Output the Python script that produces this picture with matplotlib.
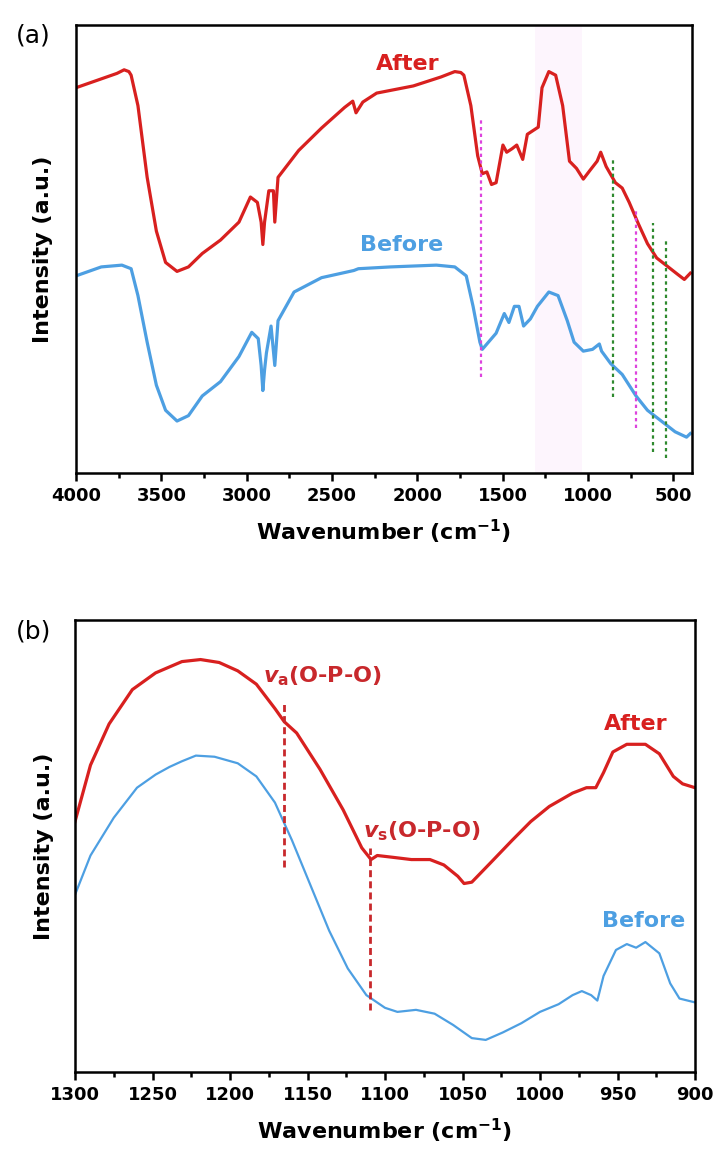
import matplotlib
matplotlib.use("Agg")
import matplotlib.pyplot as plt

# FTIR spectra (intensity in arbitrary 0-100 units)

# panel (a): full range
wn_after_a = [4000, 3760, 3718, 3690, 3677, 3637, 3583, 3529, 3475, 3408, 3341, 3260,
              3153, 3045, 2978, 2937, 2915, 2905, 2895, 2870, 2843, 2835, 2816, 2695,
              2561, 2426, 2378, 2359, 2319, 2238, 2023, 1861, 1780, 1745, 1727, 1686,
              1646, 1619, 1592, 1565, 1538, 1498, 1476, 1444, 1417, 1382, 1355, 1323,
              1291, 1269, 1229, 1189, 1148, 1108, 1067, 1027, 987, 946, 925, 893, 839,
              799, 758, 704, 651, 597, 543, 476, 435, 400]
int_after_a = [86, 89.2, 90, 89.6, 88.8, 82, 66, 54, 47, 45, 46, 49,
               52, 56, 61.6, 60.4, 56, 51, 56, 63, 63, 56, 66, 72,
               77, 81.6, 83, 80.4, 82.8, 84.8, 86.4, 88.4, 89.6, 89.4, 88.8, 82,
               70.8, 66.8, 67.2, 64.4, 64.8, 73.2, 71.6, 72.4, 73.2, 70, 75.6, 76.4,
               77.2, 86, 89.6, 88.8, 82, 69.6, 68, 65.6, 67.6, 69.6, 71.6, 68.4, 64.8,
               63.6, 60.4, 55.6, 51.2, 48, 46.4, 44.4, 43.2, 44.6]

wn_before_a = [4000, 3852, 3731, 3677, 3637, 3583, 3529, 3475, 3408, 3341, 3260, 3153,
               3045, 2970, 2932, 2915, 2905, 2895, 2884, 2857, 2835, 2816, 2722, 2561,
               2372, 2345, 2157, 1888, 1780, 1713, 1673, 1633, 1619, 1592, 1538, 1490,
               1463, 1431, 1404, 1377, 1337, 1296, 1229, 1175, 1121, 1081, 1027, 973,
               933, 920, 866, 799, 718, 651, 570, 489, 422, 400]
int_before_a = [44, 46, 46.4, 45.6, 39.6, 29.2, 19.6, 14, 11.6, 12.8, 17.2, 20.4,
                26, 31.4, 30, 24, 18.4, 23, 26.8, 32.8, 24, 34, 40.4, 43.6,
                45.2, 45.6, 46, 46.4, 46, 44, 37.2, 29.2, 27.6, 28.8, 31.2, 35.6,
                33.6, 37.2, 37.2, 32.8, 34.4, 37.2, 40.4, 39.6, 34, 29.2, 27.2, 27.6,
                28.8, 27.2, 24.4, 22, 17.2, 14, 11.6, 9.2, 8, 8.8]

# dotted marker lines in (a): position, bottom, top, colour key
mark_wn_a = [1626, 852, 717, 618, 542]
mark_lo_a = [21.4, 17, 10, 4.7, 3.3]
mark_hi_a = [78.8, 70.3, 59, 55.8, 52]
mark_kind_a = ["m", "g", "m", "g", "g"]
shade_a = (1310, 1034)

# panel (b): 1300-900 zoom
wn_after_b = [1300, 1290, 1278, 1263, 1248, 1231, 1219, 1207, 1195, 1183, 1171, 1165,
              1157, 1142, 1127, 1115, 1109, 1105, 1095, 1083, 1071, 1062, 1053, 1049,
              1044, 1032, 1018, 1006, 994, 979, 970, 964, 959, 953, 944, 932, 923,
              914, 908, 900]
int_after_b = [55.4, 67.9, 77, 84.6, 88.3, 90.8, 91.25, 90.6, 88.75, 85.8, 80.4, 77.5,
               75, 67, 58, 49.6, 47, 47.9, 47.5, 47, 47, 45.8, 43.3, 41.7,
               42, 46.25, 51.25, 55.4, 58.75, 61.7, 62.9, 62.9, 66.25, 70.8, 72.5, 72.5, 70.4,
               65.4, 63.75, 62.9]

wn_before_b = [1300, 1290, 1275, 1260, 1248, 1239, 1231, 1222, 1210, 1195, 1183, 1171,
               1160, 1148, 1136, 1124, 1112, 1100, 1092, 1080, 1068, 1056, 1044, 1035,
               1024, 1012, 1000, 988, 979, 973, 967, 963, 959, 951, 944, 938, 932,
               923, 916, 910, 900]
int_before_b = [39.2, 47.9, 56.25, 62.9, 65.8, 67.5, 68.75, 70, 69.75, 68.3, 65.4, 59.6,
                51.25, 41.25, 31.25, 22.9, 17, 14.2, 13.3, 13.75, 12.9, 10.4, 7.5, 7.1,
                8.75, 10.8, 13.3, 15, 17, 17.9, 17, 15.8, 21.25, 27, 28.3, 27.5, 28.75,
                26.25, 19.6, 16.25, 15.4]

mark_wn_b = [1165, 1110]
mark_lo_b = [45.4, 13.75]
mark_hi_b = [81.7, 49.6]

ticks_a = [4000, 3500, 3000, 2500, 2000, 1500, 1000, 500]
ticks_b = [1300, 1250, 1200, 1150, 1100, 1050, 1000, 950, 900]

RED = "#d8201f"
BLUE = "#4d9fe2"
MAG = "#dd44dd"
GRN = "#2f8a2f"
DRED = "#c8282c"

plt.rcParams["font.family"] = ["DejaVu Sans"]
plt.rcParams["mathtext.fontset"] = "custom"
plt.rcParams["mathtext.it"] = "DejaVu Sans:italic:bold"
plt.rcParams["mathtext.rm"] = "DejaVu Sans:bold"

fig = plt.figure(figsize=(7.18, 11.53), dpi=100)
ax1 = fig.add_axes([76 / 718, 1 - 473 / 1153, 616 / 718, 448 / 1153])
ax2 = fig.add_axes([75 / 718, 1 - 1072 / 1153, 620 / 718, 452 / 1153])


def style_axis(ax, ticks, minor_step):
    ax.set_ylim(0, 100)
    ax.set_yticks([])
    ax.set_xticks(ticks)
    ax.set_xticks([t + minor_step for t in ticks[:-1]], minor=True)
    ax.tick_params(axis="x", which="major", direction="out", length=6, width=1.8,
                   labelsize=13, pad=4)
    ax.tick_params(axis="x", which="minor", direction="out", length=3.5, width=1.8)
    for lab in ax.get_xticklabels():
        lab.set_fontweight("bold")
    for sp in ax.spines.values():
        sp.set_linewidth(1.8)
    ax.set_xlabel("Wavenumber (cm$^{\\mathregular{-1}}$)", fontsize=16,
                  fontweight="bold", labelpad=9)


# ---- panel (a)
ax1.axvspan(shade_a[0], shade_a[1], color="#fdf5fd", lw=0, zorder=0)
ax1.plot(wn_after_a, int_after_a, color=RED, lw=2.3, solid_joinstyle="round")
ax1.plot(wn_before_a, int_before_a, color=BLUE, lw=2.3, solid_joinstyle="round")
for w, lo, hi, k in zip(mark_wn_a, mark_lo_a, mark_hi_a, mark_kind_a):
    ax1.plot([w, w], [lo, hi], color=MAG if k == "m" else GRN, lw=1.6,
             linestyle=(0, (1.5, 1.5)))
ax1.set_xlim(4000, 390)
style_axis(ax1, ticks_a, -250)
ax1.text(2055, 91.4, "After", color=RED, fontsize=16, fontweight="bold",
         ha="center", va="center")
ax1.text(2090, 50.8, "Before", color=BLUE, fontsize=16, fontweight="bold",
         ha="center", va="center")

# ---- panel (b)
ax2.plot(wn_after_b, int_after_b, color=RED, lw=2.3, solid_joinstyle="round")
ax2.plot(wn_before_b, int_before_b, color=BLUE, lw=1.6, solid_joinstyle="round")
for w, lo, hi in zip(mark_wn_b, mark_lo_b, mark_hi_b):
    ax2.plot([w, w], [lo, hi], color=DRED, lw=2, linestyle=(0, (2.5, 1.5)))
ax2.set_xlim(1300, 900)
style_axis(ax2, ticks_b, -25)
ax2.text(1179, 87.5, "$v_{\\mathrm{a}}$(O-P-O)", color=DRED, fontsize=16,
         fontweight="bold", ha="left", va="center")
ax2.text(1114, 53.3, "$v_{\\mathrm{s}}$(O-P-O)", color=DRED, fontsize=16,
         fontweight="bold", ha="left", va="center")
ax2.text(938, 76.9, "After", color=RED, fontsize=16, fontweight="bold",
         ha="center", va="center")
ax2.text(933, 33.3, "Before", color=BLUE, fontsize=16, fontweight="bold",
         ha="center", va="center")

# y labels and panel letters
fig.text(43 / 718, 1 - 249 / 1153, "Intensity (a.u.)", rotation=90, fontsize=16,
         fontweight="bold", ha="center", va="center")
fig.text(44 / 718, 1 - 846 / 1153, "Intensity (a.u.)", rotation=90, fontsize=16,
         fontweight="bold", ha="center", va="center")
fig.text(33 / 718, 1 - 35 / 1153, "(a)", fontsize=18, ha="center", va="center")
fig.text(34 / 718, 1 - 632 / 1153, "(b)", fontsize=18, ha="center", va="center")

fig.savefig("out.png", dpi=100)
